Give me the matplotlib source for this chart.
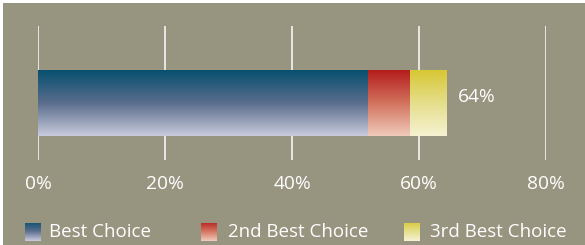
import numpy as np
import matplotlib
matplotlib.use("Agg")
import matplotlib.pyplot as plt
from matplotlib.colors import LinearSegmentedColormap
from matplotlib.patches import Rectangle

# data
series = ["Best Choice", "2nd Best Choice", "3rd Best Choice"]
values = [52.0, 6.6, 5.8]
ticks = [0, 20, 40, 60, 80]
tick_labels = ["0%", "20%", "40%", "60%", "80%"]

# gradient colours, top -> bottom
grads = [
    ["#07506f", "#5a6d8d", "#c9cbdc"],
    ["#b41c1c", "#d2735e", "#f1cabb"],
    ["#d7c833", "#e5de8c", "#f6f2d2"],
]
BG = "#97947f"
FONT = "Open Sans"

fig = plt.figure(figsize=(5.85, 2.45), dpi=100)
fig.patch.set_facecolor("white")
fig.add_artist(Rectangle((3 / 585, 0), 1, 1 - 3 / 245, transform=fig.transFigure,
                         facecolor=BG, edgecolor="none", zorder=0))

ax = fig.add_axes([38.3 / 585, 85 / 245, (545.9 - 38.3) / 585, 134 / 245])
ax.set_facecolor("none")
for s in ax.spines.values():
    s.set_visible(False)
ax.set_yticks([])
ax.set_xticks(ticks, tick_labels)
ax.tick_params(axis="x", length=0, pad=11, labelsize=13.8, labelcolor="white")
for lab in ax.get_xticklabels():
    lab.set_fontfamily(FONT)
ax.grid(axis="x", color="white", linewidth=1.1)
ax.set_axisbelow(True)

left = 0
for name, v, g in zip(series, values, grads):
    bc = ax.barh(0, v, left=left, height=1, color="none", edgecolor="none", zorder=2)
    cmap = LinearSegmentedColormap.from_list(name, g)
    grad = np.linspace(0, 1, 256).reshape(-1, 1)
    for rect in bc:
        x0, y0 = rect.get_x(), rect.get_y()
        im = ax.imshow(grad, cmap=cmap, aspect="auto", origin="upper",
                       extent=[x0, x0 + rect.get_width(), y0, y0 + rect.get_height()],
                       zorder=2)
        im.set_clip_path(rect)
    left += v
ax.set_xlim(0, 80)
ax.set_ylim(-0.87, 1.17)

total = sum(values)
ax.annotate(f"{total:.0f}%", xy=(total, 0.09), xytext=(8, 0), textcoords="offset points",
            color="white", fontsize=13.8, fontfamily=FONT, va="center", ha="left")

# legend with gradient swatches
sw_x = [25, 201, 404]
txt_x = [49, 228, 430]
for name, g, sx, tx in zip(series, grads, sw_x, txt_x):
    sax = fig.add_axes([sx / 585, 3.5 / 245, 16 / 585, 19 / 245])
    sax.imshow(np.linspace(0, 1, 64).reshape(-1, 1),
               cmap=LinearSegmentedColormap.from_list(name + "_sw", g), aspect="auto")
    sax.axis("off")
    fig.text(tx / 585, 13 / 245, name, color="white", fontsize=13.5,
             fontfamily=FONT, va="center", ha="left")

fig.savefig("out.png", dpi=100, facecolor=fig.get_facecolor())
